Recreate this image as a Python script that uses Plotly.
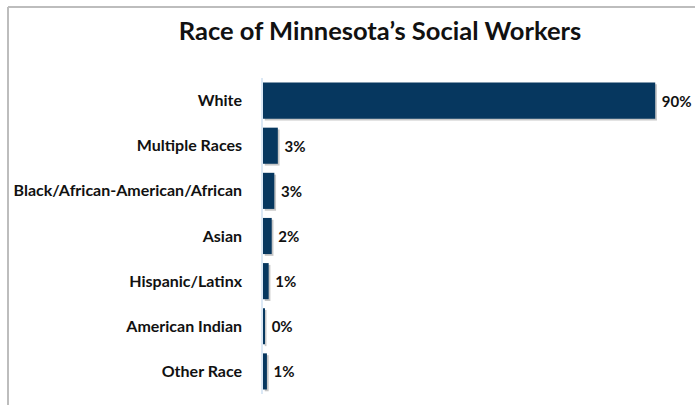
import plotly.graph_objects as go

categories = ["White", "Multiple Races", "Black/African-American/African", "Asian",
              "Hispanic/Latinx", "American Indian", "Other Race"]
values = [90, 3.4, 2.6, 2.0, 1.3, 0.4, 0.9]
title_text = "Race of Minnesota\u2019s Social Workers"

W, H = 695, 405
L, R, T, B = 263, 18, 78, 11
pw, ph = W - L - R, H - T - B

def px_x(px):
    return (px - L) / pw

def px_y(py):
    return (H - B - py) / ph

FONT = "Lato, Open Sans, sans-serif"

fig = go.Figure()
# subtle shadow
fig.add_trace(go.Bar(
    y=categories, x=values, orientation="h",
    marker=dict(color="rgba(0,0,0,0.22)", line=dict(width=0)),
    width=0.8, offset=-0.36, base=0.4,
    hoverinfo="skip", showlegend=False,
))
fig.add_trace(go.Bar(
    y=categories, x=values, orientation="h",
    marker=dict(color="#06375f", line=dict(width=0)),
    width=0.8,
    texttemplate=" %{x:.0f}%", textposition="outside", cliponaxis=False,
    textfont=dict(family=FONT, size=15, color="#111111", weight="bold"),
    showlegend=False,
))
fig.update_layout(
    width=W, height=H,
    margin=dict(l=L, r=R, t=T, b=B),
    paper_bgcolor="white", plot_bgcolor="white",
    barmode="overlay",
    title=dict(text=title_text, x=(380 / W), xanchor="center", y=1 - 31 / H, yanchor="middle",
               font=dict(family=FONT, size=25.5, color="#111111", weight="bold")),
    xaxis=dict(range=[0, 95], visible=False, showgrid=False, zeroline=False),
    yaxis=dict(autorange="reversed", showgrid=False, zeroline=False,
               showline=True, linecolor="#dbe8f5", linewidth=1.5,
               ticks="", ticklabelstandoff=16,
               tickfont=dict(family=FONT, size=16, color="#111111", weight="bold")),
    shapes=[
        dict(type="line", xref="paper", yref="paper", x0=px_x(8), x1=px_x(695), y0=px_y(7), y1=px_y(7),
             line=dict(color="#bdbdbd", width=2)),
        dict(type="line", xref="paper", yref="paper", x0=px_x(8), x1=px_x(8), y0=px_y(7), y1=px_y(405),
             line=dict(color="#bdbdbd", width=2)),
    ],
)
fig.write_html("out.html")
